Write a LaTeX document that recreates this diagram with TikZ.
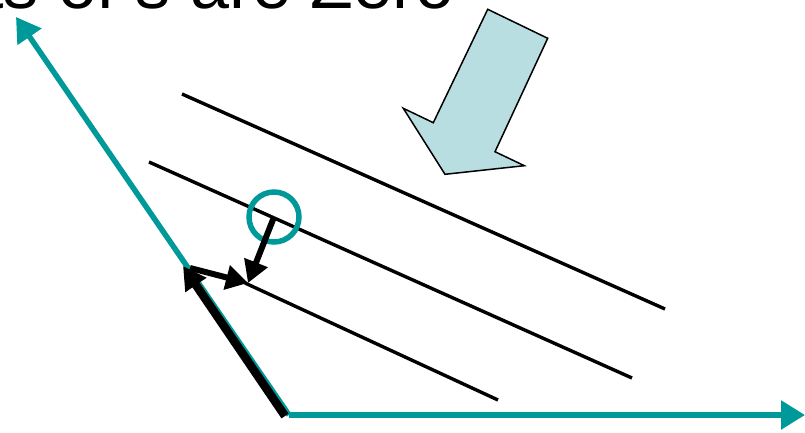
\documentclass[tikz,border=0pt]{standalone}
\usepackage{fontspec}
\setmainfont{Liberation Sans}
\usetikzlibrary{arrows.meta}
\definecolor{teal1}{RGB}{0,153,153}
\definecolor{pale}{RGB}{185,222,226}
\tikzset{
  axis/.style={draw=teal1, line width=5.5pt, -{Triangle[length=24pt,width=28pt]}},
  wave/.style={draw=black, line width=3.4pt},
  vec/.style={draw=black, line width=6pt, -{Triangle[length=22pt,width=24pt]}},
  bigvec/.style={draw=black, line width=8.5pt, -{Triangle[length=23pt,width=24pt]}},
  ring/.style={draw=teal1, line width=5.5pt},
  blockarrow/.style={draw=black, line width=1.5pt, fill=pale, line join=miter}
}
\begin{document}
\begin{tikzpicture}[x=1pt,y=-1pt]
\useasboundingbox (0,0) rectangle (805,433);
% title (cut off at top, as in the reference)
\node[anchor=base west, inner sep=0pt, font=\fontsize{70}{80}\selectfont] (title) at (-16,9) {ts of s are Zero};
% coordinates
\coordinate (O) at (289,415);
\coordinate (Ytip) at (16,17);
\coordinate (Xtip) at (805,415);
\coordinate (L1a) at (182,94);  \coordinate (L1b) at (665,309);
\coordinate (L2a) at (149,162); \coordinate (L2b) at (632,378);
\coordinate (L3a) at (245,283); \coordinate (L3b) at (498,400);
\coordinate (C) at (274,217);
\coordinate (Bs) at (285,416);
\coordinate (Bt) at (183,266);
\coordinate (Ss) at (190,268);
\coordinate (T) at (248,283);
% axes
\draw[axis] (O) -- (Ytip);
\draw[axis] (O) -- (Xtip);
% wavefront lines
\draw[wave] (L1a) -- (L1b);
\draw[wave] (L2a) -- (L2b);
\draw[wave] (L3a) -- (L3b);
% circle
\node[ring, circle, minimum size=50pt, inner sep=0pt] (ringnode) at (C) {};
% vectors
\draw[vec] (C) -- (T);
\draw[vec] (Ss) -- (T);
\draw[bigvec] (Bs) -- (Bt);
% block arrow
\draw[blockarrow] (487.7,9.3) -- (547.7,38.3) -- (495,151.7) -- (524.3,165.7)
  -- (445,174.3) -- (403.3,108.3) -- (433.3,122.7) -- cycle;
\end{tikzpicture}
\end{document}
